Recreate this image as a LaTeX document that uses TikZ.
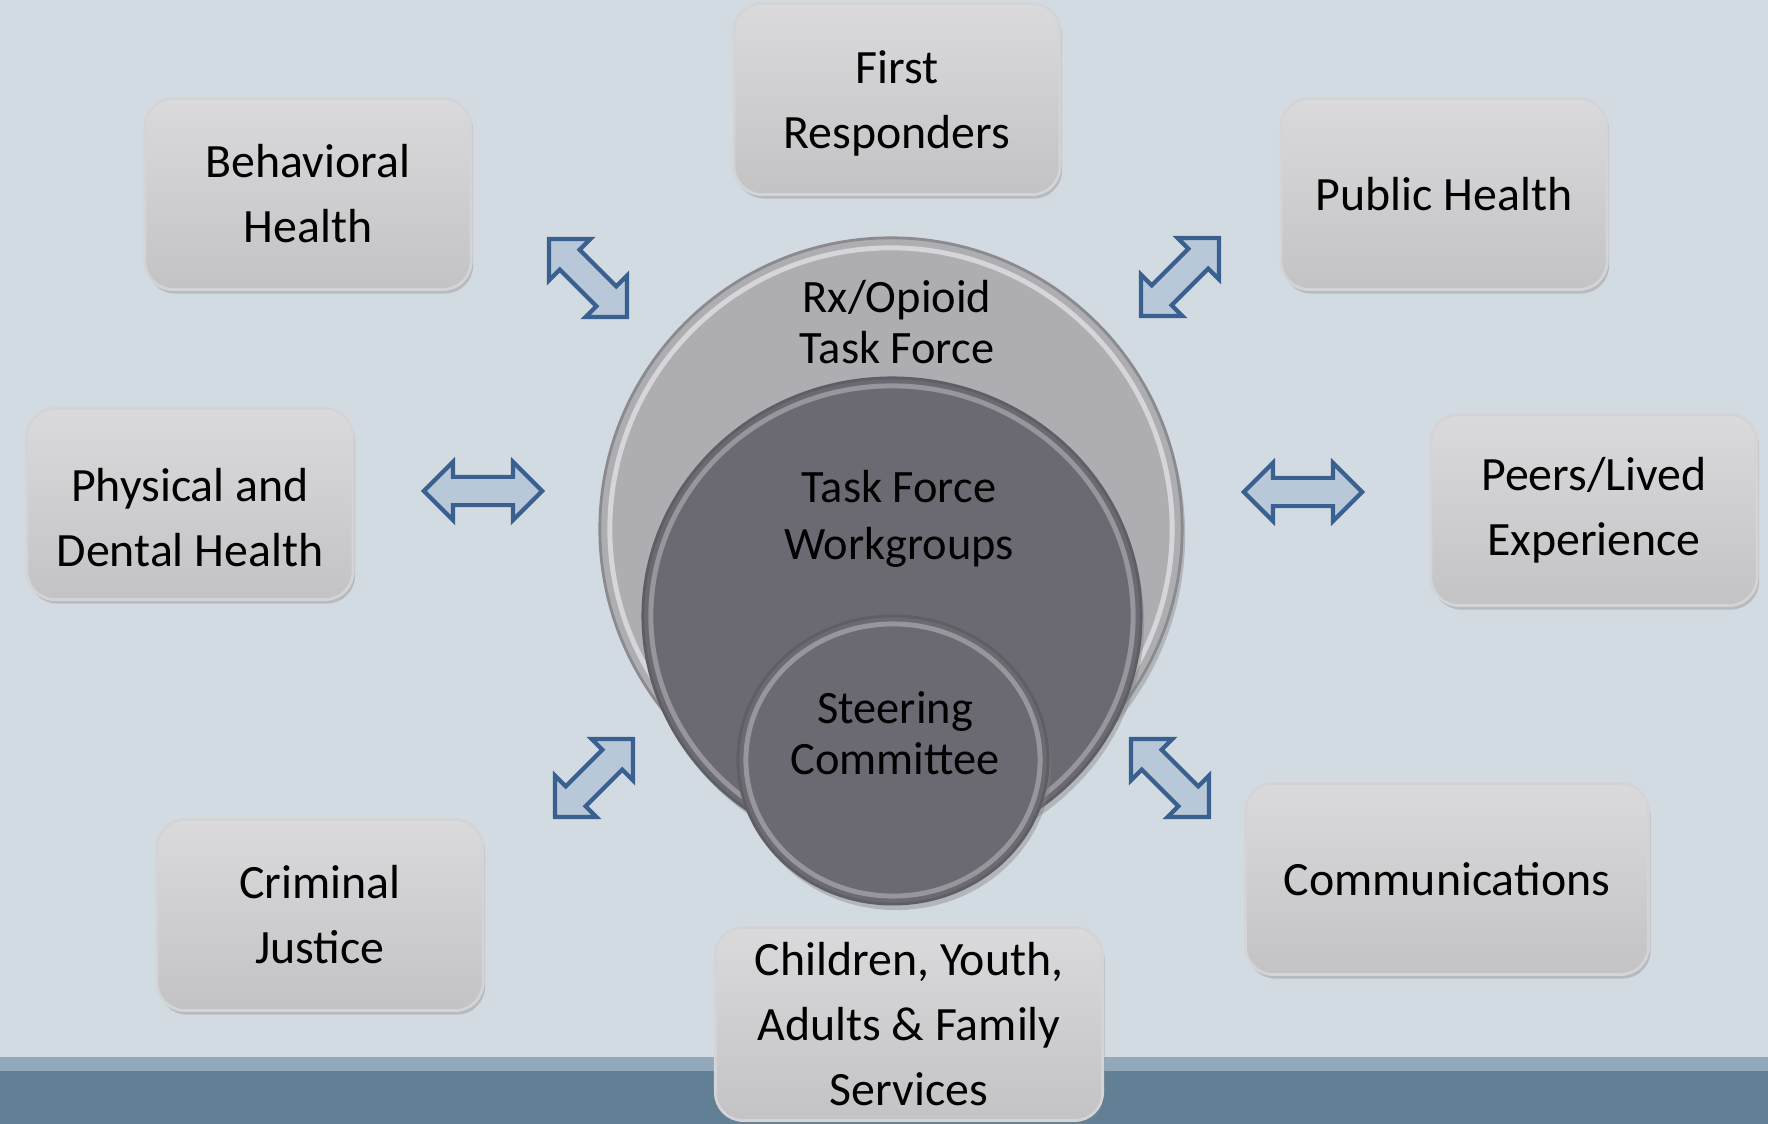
\documentclass[tikz,border=0pt]{standalone}
\usepackage{fontspec}
\setmainfont{Carlito}
\usetikzlibrary{shapes.geometric,shapes.arrows,shadows}

\definecolor{backdrop}{HTML}{D3DBE2}
\definecolor{bandlight}{HTML}{91A9BA}
\definecolor{banddark}{HTML}{618096}
\definecolor{boxtop}{HTML}{DADADC}
\definecolor{boxgray}{HTML}{C3C3C5}
\definecolor{boxedge}{HTML}{D4D4D6}
\definecolor{outergray}{HTML}{ADADB2}
\definecolor{outeredge}{HTML}{8A8A8F}
\definecolor{innergray}{HTML}{6B6A72}
\definecolor{inneredge}{HTML}{5E5E64}
\definecolor{rimlight}{HTML}{D6D6DA}
\definecolor{rimdark}{HTML}{96969C}
\definecolor{arrowfill}{HTML}{B8C8D8}
\definecolor{arrowline}{HTML}{3A6090}

\begin{document}
\begin{tikzpicture}[x=0.01cm, y=-0.01cm]
		\tikzstyle{sector} = [draw=boxedge, line width=0.8pt, rounded corners=0.28cm, top color=boxtop, bottom color=boxgray, minimum width=3.26cm, minimum height=1.91cm, align=center, font=\fontsize{13.6}{18.5}\selectfont, drop shadow={opacity=0.35, shadow xshift=0.02cm, shadow yshift=-0.04cm}]
		\tikzstyle{disk} = [ellipse, inner sep=0pt, line width=0.8pt, drop shadow={opacity=0.4, shadow xshift=0.03cm, shadow yshift=-0.06cm}]
		\tikzstyle{rim} = [line width=1.4pt]
		\tikzstyle{disktext} = [align=center, font=\fontsize{13.2}{14.6}\selectfont]
		\tikzstyle{twoway} = [double arrow, draw=arrowline, fill=arrowfill, line width=1.2pt, inner sep=0.12cm, minimum width=0.54cm, double arrow head extend=0.15cm, minimum height=1.18cm]

		% backdrop and bottom band
		\useasboundingbox (0,0) rectangle (1768,1124);
		\fill[backdrop] (0,0) rectangle (1768,1124);
		\fill[bandlight] (0,1057) rectangle (1768,1071);
		\fill[banddark] (0,1071) rectangle (1768,1124);

		% nested circles
		\node[disk, fill=outergray, draw=outeredge, minimum width=5.82cm, minimum height=5.82cm] (taskforce) at (891,529) {};
		\draw[rim, draw=rimlight] (taskforce.center) ellipse [x radius=2.81cm, y radius=2.81cm];
		\node[disktext] (taskforcetext) at (897,322) {Rx/Opioid\\Task Force};

		\node[disk, fill=innergray, draw=inneredge, minimum width=4.98cm, minimum height=4.76cm] (workgroups) at (892,616) {};
		\draw[rim, draw=rimdark] (workgroups.center) ellipse [x radius=2.41cm, y radius=2.30cm];
		\node[disktext, font=\fontsize{13.2}{16.4}\selectfont] (workgroupstext) at (899,519) {Task Force\\Workgroups};

		\node[disk, fill=innergray, draw=inneredge, minimum width=3.10cm, minimum height=2.88cm] (steering) at (893,760) {};
		\draw[rim, draw=rimdark] (steering.center) ellipse [x radius=1.47cm, y radius=1.36cm];
		\node[disktext] (steeringtext) at (895,733) {Steering\\Committee};

		% two-way arrows
		\node[twoway, rotate=-45, minimum height=1.1cm] (nwlink) at (588,278) {};
		\node[twoway, rotate=45, minimum height=1.1cm] (nelink) at (1180,277) {};
		\node[twoway] (westlink) at (483,491) {};
		\node[twoway] (eastlink) at (1303,492) {};
		\node[twoway, rotate=45, minimum height=1.1cm] (swlink) at (594,778) {};
		\node[twoway, rotate=-45, minimum height=1.1cm] (selink) at (1170,778) {};

		% sector boxes
		\node[sector] (behavioral) at (308,194) {Behavioral\\Health};
		\node[sector] (responders) at (897,99) {\rule{0pt}{12pt}First\\Responders};
		\node[sector] (public) at (1444,194) {Public Health};
		\node[sector] (physical) at (190,504) {\rule{0pt}{17pt}Physical and\\Dental Health};
		\node[sector] (peers) at (1594,510) {Peers/Lived\\Experience};
		\node[sector] (justice) at (320,915) {Criminal\\Justice};
		\node[sector, minimum width=4.03cm] (comms) at (1447,879) {Communications};
		\node[sector, minimum width=3.87cm, minimum height=1.93cm] (family) at (909,1024) {Children, Youth,\\Adults \& Family\\Services};

\end{tikzpicture}
\end{document}
